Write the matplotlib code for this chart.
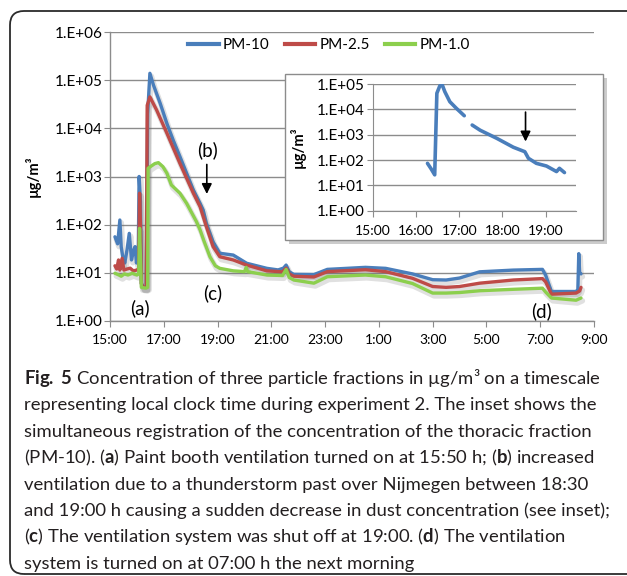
import matplotlib
matplotlib.use("Agg")
import matplotlib.pyplot as plt
import numpy as np
from matplotlib import patheffects as pe
from matplotlib.patches import FancyBboxPatch, Rectangle
from matplotlib.transforms import IdentityTransform
from matplotlib.lines import Line2D

plt.rcParams['font.family'] = ['Lato', 'DejaVu Sans']
plt.rcParams['mathtext.fontset'] = 'custom'
plt.rcParams['mathtext.rm'] = 'Lato'
plt.rcParams['mathtext.bf'] = 'Lato:bold'
plt.rcParams['mathtext.it'] = 'Lato:italic'

# ---------------- data (local clock time, µg/m3) ----------------
pm10_t = ["15:11", "15:17", "15:22", "15:25", "15:29", "15:33", "15:38", "15:43", "15:48", "15:53",
          "15:56", "15:59", "16:03", "16:05", "16:08", "16:10", "16:14", "16:21", "16:24", "16:29",
          "16:37", "16:52", "17:07", "17:21", "17:36", "17:51", "18:06", "18:21", "18:28", "18:35",
          "18:50", "19:05", "19:35", "20:05", "20:50", "21:15", "21:27", "21:33", "21:40", "21:50",
          "22:35", "23:05", "0:30", "1:15", "2:15", "3:00", "3:30", "4:00", "4:45", "6:00",
          "7:05", "7:12", "7:25", "8:20", "8:24", "8:26", "8:28", "8:31"]
pm10_v = [56, 40, 125, 35, 20, 16, 30, 66, 18.5, 30,
          35, 16, 25, 1000, 300, 6, 5, 5, 2.0e4, 1.39e5,
          7.9e4, 3.3e4, 1.26e4, 5.7e3, 2.6e3, 1.17e3, 525, 277, 200, 107,
          44, 25.5, 23.4, 15.8, 12.4, 11.5, 12.5, 14.5, 10.5, 9.3,
          9.2, 11.8, 13, 12.4, 9.5, 7.2, 7.1, 7.8, 10.5, 11.4,
          11.8, 9, 4.1, 4.1, 4.5, 25, 10, 9.5]

pm25_t = ["15:11", "15:15", "15:19", "15:22", "15:27", "15:31", "15:38", "15:45", "15:52", "15:59",
          "16:04", "16:06", "16:08", "16:10", "16:14", "16:21", "16:23", "16:29", "16:44", "17:07",
          "17:36", "18:06", "18:21", "18:35", "18:50", "19:05", "19:35", "20:05", "20:50", "21:25",
          "21:33", "21:40", "21:50", "22:35", "23:05", "0:30", "1:15", "2:15", "3:00", "3:30",
          "4:00", "4:45", "6:00", "7:05", "7:12", "7:25", "8:20", "8:28", "8:31"]
pm25_v = [14, 12, 18.5, 11.4, 20, 11.4, 12, 12.5, 11, 11.4,
          12, 450, 100, 6, 5, 5, 3.0e4, 4.5e4, 2.4e4, 7.9e3,
          1.87e3, 450, 236, 91, 35, 21.6, 18.5, 14.5, 11, 10.5,
          12.5, 9.5, 8.5, 8.2, 10.6, 11.6, 10.6, 7.7, 5.2, 5,
          5.2, 6.1, 7.1, 7.6, 6.5, 3.6, 3.8, 4.2, 5.0]

pm1_t = ["15:11", "15:20", "15:25", "15:32", "15:40", "15:50", "16:00", "16:04", "16:06", "16:08",
         "16:10", "16:20", "16:24", "16:25", "16:30", "16:40", "16:48", "16:58", "17:07", "17:17",
         "17:36", "17:51", "18:13", "18:21", "18:30", "18:43", "18:55", "19:05", "19:35", "20:00",
         "20:04", "20:07", "20:50", "21:25", "21:33", "21:40", "21:50", "22:35", "23:05", "0:30",
         "1:15", "2:15", "3:00", "3:30", "4:00", "4:45", "6:00", "7:05", "7:12", "7:25",
         "8:20", "8:31"]
pm1_v = [9.8, 9, 8.5, 9.5, 9, 9.8, 9, 9.5, 84, 20,
         5, 4.8, 5, 1.48e3, 1.6e3, 1.85e3, 1.94e3, 1.6e3, 1.17e3, 665,
         450, 277, 115, 78, 45, 21.6, 14, 12.4, 11, 10.6,
         13, 10.6, 9, 8.8, 11.8, 8, 7.1, 6.1, 8.3, 9,
         8.3, 6, 3.8, 3.8, 3.9, 4.25, 4.55, 4.8, 4, 3.0,
         2.7, 3.0]

# inset: PM-10, two recorded segments
inset_t1 = ["16:16", "16:21", "16:26", "16:29", "16:33", "16:36", "16:40", "16:47", "16:56", "17:07"]
inset_v1 = [74, 45, 26, 4.3e4, 8.3e4, 1.0e5, 5.0e4, 2.0e4, 1.1e4, 5.6e3]
inset_t2 = ["17:18", "17:29", "17:52", "18:15", "18:31", "18:36", "18:47", "19:01", "19:15", "19:19", "19:26"]
inset_v2 = [2.4e3, 1.5e3, 720, 320, 213, 117, 74, 58, 35, 47, 32]

series_names = ["PM-10", "PM-2.5", "PM-1.0"]
colors = ["#4A7EBB", "#BE4B48", "#8CCF4D"]

main_xticklabels = ["15:00", "17:00", "19:00", "21:00", "23:00", "1:00", "3:00", "5:00", "7:00", "9:00"]
main_ytick_exp = [0, 1, 2, 3, 4, 5, 6]
inset_xticklabels = ["15:00", "16:00", "17:00", "18:00", "19:00"]
inset_ytick_exp = [0, 1, 2, 3, 4, 5]

caption_lines = [
    r"$\mathbf{Fig.}$ $\mathbf{5}$ Concentration of three particle fractions in µg/m³ on a timescale",
    "representing local clock time during experiment 2. The inset shows the",
    "simultaneous registration of the concentration of the thoracic fraction",
    r"(PM-10). ($\mathbf{a}$) Paint booth ventilation turned on at 15:50 h; ($\mathbf{b}$) increased",
    "ventilation due to a thunderstorm past over Nijmegen between 18:30",
    "and 19:00 h causing a sudden decrease in dust concentration (see inset);",
    r"($\mathbf{c}$) The ventilation system was shut off at 19:00. ($\mathbf{d}$) The ventilation",
    "system is turned on at 07:00 h the next morning",
]


def hrs(t):
    """clock time -> hours since 15:00 of day 1"""
    h, m = map(int, t.split(":"))
    v = h + m / 60.0 - 15.0
    if v < 0:
        v += 24.0
    return v


W, H = 627, 576
fig = plt.figure(figsize=(W / 100, H / 100), dpi=100)
fig.patch.set_facecolor("white")


def px_axes(x0, y0, x1, y1):
    return [x0 / W, 1 - y1 / H, (x1 - x0) / W, (y1 - y0) / H]


GRID = "#8C8C8C"

# outer rounded frame
outer = FancyBboxPatch((10, 2), 660, 563, boxstyle="round,pad=0,rounding_size=14",
                       transform=IdentityTransform(), fill=False, edgecolor="#2b2b2b",
                       linewidth=1.3, zorder=0.5)
fig.patches.append(outer)

# ---------------- main axes ----------------
ax = fig.add_axes(px_axes(110, 32, 594, 321))
ax.set_zorder(0)
ax.set_yscale("log")
ax.set_ylim(1, 1e6)
ax.set_xlim(0, 18)
ax.set_xticks(np.arange(0, 19, 2))
ax.set_xticklabels(main_xticklabels)
ax.set_yticks([10.0 ** e for e in main_ytick_exp])
ax.set_yticklabels(["1.E+%02d" % e for e in main_ytick_exp])
ax.yaxis.set_minor_locator(matplotlib.ticker.NullLocator())
for s in ["top", "right"]:
    ax.spines[s].set_visible(False)
for s in ["left", "bottom"]:
    ax.spines[s].set_color(GRID)
    ax.spines[s].set_linewidth(1.0)
ax.grid(axis="y", color=GRID, linewidth=1.0)
ax.set_axisbelow(True)
ax.tick_params(axis="y", direction="out", length=4, color=GRID, pad=1.5, labelsize=11)
ax.tick_params(axis="x", direction="out", length=4, color=GRID, pad=5, labelsize=10)
ax.set_ylabel("µg/m³", fontweight="bold", fontsize=10.5, labelpad=10)

shadow = [pe.SimpleLineShadow(offset=(1.0, -2.0), shadow_color="#666666", alpha=0.2, linewidth=4.0),
          pe.Normal()]
for tt, vv, c in zip([pm10_t, pm25_t, pm1_t], [pm10_v, pm25_v, pm1_v], colors):
    ax.plot([hrs(t) for t in tt], vv, color=c, lw=2.4, solid_joinstyle="round",
            solid_capstyle="round", path_effects=shadow)

handles = [Line2D([], [], color=c, lw=3) for c in colors]
ax.legend(handles, series_names, loc="center", bbox_to_anchor=(0.4525, 0.955), ncol=3,
          frameon=False, handlelength=2.0, handletextpad=0.25, columnspacing=1.0, fontsize=11)

tkw = dict(fontsize=13.5, ha="center", va="center")
ax.text(hrs("16:07"), 1.86, "(a)", **tkw)
ax.text(hrs("18:38"), 3550, "(b)", **tkw)
ax.text(hrs("18:50"), 3.8, "(c)", **tkw)
ax.text(hrs("7:03"), 1.6, "(d)", **tkw)
ax.annotate("", xy=(hrs("18:36"), 380), xytext=(hrs("18:36"), 2030),
            arrowprops=dict(arrowstyle="-|>,head_width=0.3,head_length=0.6", color="black", lw=1.2))

# ---------------- inset ----------------
sh = Rectangle((289, H - 244), 318, 166, transform=IdentityTransform(),
               facecolor="#9a9a9a", edgecolor="none", alpha=0.5, zorder=1)
fr = Rectangle((285, H - 240), 318, 166, transform=IdentityTransform(),
               facecolor="white", edgecolor="#8C8C8C", linewidth=1.0, zorder=1.1)
fig.patches.extend([sh, fr])

ai = fig.add_axes(px_axes(372.7, 84, 576, 210.7))
ai.set_zorder(3)
ai.patch.set_alpha(0)
ai.set_yscale("log")
ai.set_ylim(1, 1e5)
ai.set_xlim(0, 4.7)
ai.set_xticks(np.arange(0, 5, 1))
ai.set_xticklabels(inset_xticklabels)
ai.set_yticks([10.0 ** e for e in inset_ytick_exp])
ai.set_yticklabels(["1.E+%02d" % e for e in inset_ytick_exp])
ai.yaxis.set_minor_locator(matplotlib.ticker.NullLocator())
for s in ["top", "right"]:
    ai.spines[s].set_visible(False)
for s in ["left", "bottom"]:
    ai.spines[s].set_color(GRID)
ai.grid(axis="y", color=GRID, linewidth=1.0)
ai.set_axisbelow(True)
ai.tick_params(axis="y", direction="out", length=4, color=GRID, pad=1.5, labelsize=11)
ai.tick_params(axis="x", direction="out", length=4, color=GRID, pad=6, labelsize=10)
ai.set_ylabel("µg/m³", fontweight="bold", fontsize=10.5, labelpad=8)
for tt, vv in [(inset_t1, inset_v1), (inset_t2, inset_v2)]:
    ai.plot([hrs(t) for t in tt], vv, color=colors[0], lw=2.6, solid_joinstyle="round",
            solid_capstyle="round")
ai.annotate("", xy=(hrs("18:32"), 417), xytext=(hrs("18:32"), 1e4),
            arrowprops=dict(arrowstyle="-|>,head_width=0.3,head_length=0.6", color="black", lw=1.2))

# ---------------- caption ----------------
for i, line in enumerate(caption_lines):
    fig.text(24 / W, 1 - (384 + 26.4 * i) / H, line, fontsize=13.3, ha="left", va="baseline",
             color="#231f20")

fig.savefig("out.png", dpi=100, facecolor="white")
